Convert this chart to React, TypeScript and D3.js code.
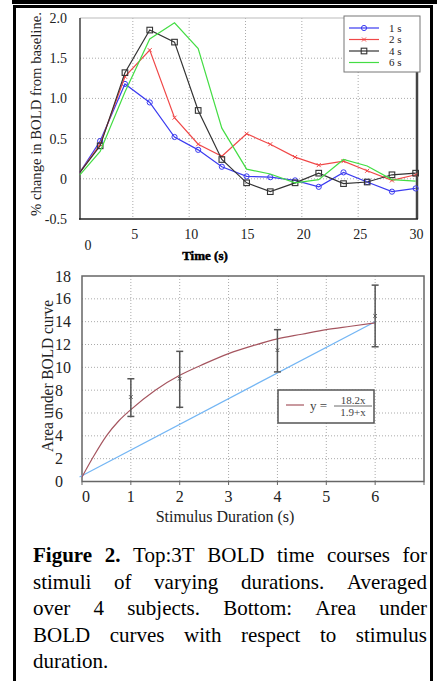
import * as d3 from "d3";
import React, { useMemo } from "react";

// top panel: BOLD time courses (% change), sampled every ~2.15 s
const times = [0.3, 2.1, 4.3, 6.5, 8.7, 10.8, 12.9, 15.1, 17.2, 19.4, 21.5, 23.7, 25.8, 28.0, 30.1];
const bold1s = [0.08, 0.47, 1.18, 0.95, 0.52, 0.36, 0.15, 0.03, 0.02, -0.02, -0.1, 0.08, -0.04, -0.16, -0.12];
const bold2s = [0.08, 0.43, 1.27, 1.6, 0.76, 0.43, 0.28, 0.56, 0.43, 0.27, 0.17, 0.22, 0.1, -0.02, 0.05];
const bold4s = [0.08, 0.41, 1.32, 1.85, 1.7, 0.85, 0.24, -0.05, -0.16, -0.05, 0.07, -0.06, -0.04, 0.05, 0.07];
const bold6s = [0.05, 0.34, 1.08, 1.74, 1.94, 1.62, 0.63, 0.12, 0.06, -0.05, -0.01, 0.24, 0.16, -0.01, -0.03];
const seriesNames = ["1 s", "2 s", "4 s", "6 s"];
const topYTicks = [-0.5, 0, 0.5, 1.0, 1.5, 2.0];
const topYLabels = ["-0.5", "0", "0.5", "1.0", "1.5", "2.0"];
const topXTicks = [0, 5, 10, 15, 20, 25, 30];

// bottom panel: area under curve vs stimulus duration
const durations = [1, 2, 4, 6];
const areaMean = [7.4, 9.0, 11.5, 14.5];
const areaLow = [5.7, 6.5, 9.6, 11.8];
const areaHigh = [9.0, 11.4, 13.3, 17.2];
const fitX = [0, 0.25, 0.5, 0.75, 1, 1.5, 2, 2.5, 3, 3.5, 4, 4.5, 5, 5.5, 6];
const fitY = [0.4, 2.3, 4.0, 5.3, 6.3, 8.0, 9.3, 10.3, 11.2, 11.9, 12.5, 12.9, 13.3, 13.6, 13.9];
const linX = [-0.05, 6];
const linY = [0.4, 14.0];
const botYTicks = [0, 2, 4, 6, 8, 10, 12, 14, 16, 18];
const botXTicks = [0, 1, 2, 3, 4, 5, 6, 7];

const captionLines = [
  "Figure 2. Top:3T BOLD time courses for",
  "stimuli of varying durations. Averaged",
  "over 4 subjects. Bottom: Area under",
  "BOLD curves with respect to stimulus",
  "duration.",
];

const SERIF = "'Liberation Serif', 'Times New Roman', serif";

const App = () => {
  const xT = d3.scaleLinear().domain([0, 30]).range([76.5, 414.5]);
  const yT = d3.scaleLinear().domain([-0.5, 2]).range([219, 18]);
  const xB = d3.scaleLinear().domain([0, 7]).range([82, 424]);
  const yB = d3.scaleLinear().domain([0, 18]).range([481.5, 276]);

  const topLine = d3
    .line<[number, number]>()
    .x((d) => xT(d[0]))
    .y((d) => yT(d[1]));
  const pts = (vals: number[]) => times.map((t, i) => [t, vals[i]] as [number, number]);

  const series = [
    { name: seriesNames[0], vals: bold1s, color: "#3b3bf0", marker: "circle" },
    { name: seriesNames[1], vals: bold2s, color: "#f04848", marker: "x" },
    { name: seriesNames[2], vals: bold4s, color: "#333333", marker: "square" },
    { name: seriesNames[3], vals: bold6s, color: "#44dd44", marker: "none" },
  ];

  const marker = (kind: string, cx: number, cy: number, color: string, key: any) => {
    if (kind === "circle")
      return <circle key={key} cx={cx} cy={cy} r={2.6} fill="none" stroke={color} strokeWidth={1} />;
    if (kind === "square")
      return <rect key={key} x={cx - 2.8} y={cy - 2.8} width={5.6} height={5.6} fill="none" stroke={color} strokeWidth={1.1} />;
    if (kind === "x")
      return (
        <path key={key} d={`M${cx - 2},${cy - 2}L${cx + 2},${cy + 2}M${cx - 2},${cy + 2}L${cx + 2},${cy - 2}`} stroke={color} strokeWidth={1} />
      );
    return null;
  };

  const fitLine = d3
    .line<number>()
    .x((d) => xB(d))
    .y((_, i) => yB(fitY[i]))
    .curve(d3.curveMonotoneX);
  const linLine = d3
    .line<number>()
    .x((d) => xB(d))
    .y((_, i) => yB(linY[i]));

  // justified caption, measured with a canvas
  const caption = useMemo(() => {
    const ctx = document.createElement("canvas").getContext("2d")!;
    const size = 21;
    const left = 33;
    const right = 427;
    return captionLines.map((line, li) => {
      const words = line.split(" ").map((w, wi) => {
        const bold = li === 0 && wi < 2;
        ctx.font = `${bold ? "bold " : ""}${size}px 'Liberation Serif'`;
        return { w, bold, width: ctx.measureText(w).width };
      });
      const total = d3.sum(words, (d) => d.width);
      const last = li === captionLines.length - 1;
      const gap = last || words.length < 2 ? size * 0.25 : (right - left - total) / (words.length - 1);
      let x = left;
      return words.map((d) => {
        const out = { ...d, x };
        x += d.width + gap;
        return out;
      });
    });
  }, []);

  return (
    <div style={{ position: "absolute", left: 0, top: 0 }}>
      <svg width={438} height={681} style={{ display: "block", background: "#fff" }} fontFamily={SERIF}>
        {/* frames */}
        <rect x={12} y={0} width={425} height={4} fill="#000" />
        <rect x={14.5} y={6.5} width={417} height={690} fill="none" stroke="#000" strokeWidth={3} />

        {/* ===== top chart ===== */}
        <g>
          {topYTicks.slice(1, 5).map((v) => (
            <line key={"gy" + v} x1={80} x2={417} y1={yT(v)} y2={yT(v)} stroke="#aaa" strokeDasharray="1,2" />
          ))}
          {topXTicks.slice(1, 6).map((v) => (
            <line key={"gx" + v} x1={xT(v)} x2={xT(v)} y1={18} y2={219} stroke="#aaa" strokeDasharray="1,2" />
          ))}
          <line x1={80} x2={417} y1={18} y2={18} stroke="#bbb" />
          <line x1={417} x2={417} y1={72} y2={219} stroke="#444" strokeWidth={2.5} />
          <line x1={80} x2={80} y1={18} y2={219.5} stroke="#222" strokeWidth={1.3} />
          <line x1={79} x2={418} y1={219} y2={219} stroke="#222" strokeWidth={1.5} />

          {series.map((s) => (
            <g key={s.name}>
              <path d={topLine(pts(s.vals)) || ""} fill="none" stroke={s.color} strokeWidth={1.2} />
              {pts(s.vals).slice(1).map((p, i) => marker(s.marker, xT(p[0]), yT(p[1]), s.color, i))}
            </g>
          ))}

          {topYTicks.map((v, i) => (
            <text key={"ty" + v} x={67} y={yT(v) + 5} textAnchor="end" fontSize={14} fill="#222">
              {topYLabels[i]}
            </text>
          ))}
          {topXTicks.map((v) =>
            v === 0 ? (
              <text key="tx0" x={88} y={250} textAnchor="middle" fontSize={14} fill="#222">0</text>
            ) : (
              <text key={"tx" + v} x={xT(v) + 2} y={239} textAnchor="middle" fontSize={14} fill="#222">
                {v}
              </text>
            )
          )}
          <text x={205} y={260} textAnchor="middle" fontSize={13} fontWeight="bold" stroke="#000" strokeWidth={0.5}>
            Time (s)
          </text>
          <text
            transform="translate(41,114) rotate(-90)"
            textAnchor="middle"
            fontSize={14.5}
            textLength={204}
            lengthAdjust="spacingAndGlyphs"
            fill="#222"
          >
            % change in BOLD from baseline.
          </text>

          {/* legend */}
          <rect x={344} y={16} width={76} height={56} fill="#fff" stroke="#777" strokeWidth={1} />
          {series.map((s, i) => {
            const ly = 28 + i * 11.5;
            return (
              <g key={"lg" + s.name}>
                <line x1={349} x2={379} y1={ly} y2={ly} stroke={s.color} strokeWidth={1.2} />
                {marker(s.marker, 364, ly, s.color, "m")}
                <text x={389} y={ly + 3.5} fontSize={11} fill="#222">{s.name}</text>
              </g>
            );
          })}
        </g>

        {/* ===== bottom chart ===== */}
        <g>
          {botYTicks.slice(1, 9).map((v) => (
            <line key={"by" + v} x1={82} x2={424} y1={yB(v)} y2={yB(v)} stroke="#aaa" strokeDasharray="1,2" />
          ))}
          {botXTicks.slice(1, 7).map((v) => (
            <line key={"bx" + v} x1={xB(v)} x2={xB(v)} y1={276} y2={481.5} stroke="#aaa" strokeDasharray="1,2" />
          ))}
          <rect x={82} y={276} width={342} height={205.5} fill="none" stroke="#666" strokeWidth={1.5} />
          {botXTicks.map((v) => (
            <line key={"bt" + v} x1={xB(v)} x2={xB(v)} y1={482} y2={485} stroke="#666" />
          ))}

          <path d={linLine(linX) || ""} fill="none" stroke="#74b6f4" strokeWidth={1.2} />
          <path d={fitLine(fitX) || ""} fill="none" stroke="#a5555f" strokeWidth={1.2} />

          {durations.map((d, i) => (
            <g key={"eb" + d} stroke="#555" strokeWidth={1.5}>
              <line x1={xB(d)} x2={xB(d)} y1={yB(areaLow[i])} y2={yB(areaHigh[i])} />
              <line x1={xB(d) - 3.5} x2={xB(d) + 3.5} y1={yB(areaLow[i])} y2={yB(areaLow[i])} />
              <line x1={xB(d) - 3.5} x2={xB(d) + 3.5} y1={yB(areaHigh[i])} y2={yB(areaHigh[i])} />
              <path
                d={`M${xB(d) - 1.8},${yB(areaMean[i]) - 1.8}L${xB(d) + 1.8},${yB(areaMean[i]) + 1.8}M${xB(d) - 1.8},${yB(areaMean[i]) + 1.8}L${xB(d) + 1.8},${yB(areaMean[i]) - 1.8}`}
                strokeWidth={1}
              />
            </g>
          ))}

          {botYTicks.map((v) => (
            <text key={"byl" + v} x={55} y={yB(v) + 5.5} fontSize={16} fill="#222">
              {v}
            </text>
          ))}
          {botXTicks.slice(0, 7).map((v) => (
            <text key={"bxl" + v} x={xB(v) + (v === 0 ? 4 : 0)} y={502} textAnchor="middle" fontSize={16} fill="#222">
              {v}
            </text>
          ))}
          <text x={225} y={522} textAnchor="middle" fontSize={16} fill="#222">
            Stimulus Duration (s)
          </text>
          <text
            transform="translate(53,376) rotate(-90)"
            textAnchor="middle"
            fontSize={16}
            textLength={152}
            lengthAdjust="spacingAndGlyphs"
            fill="#222"
          >
            Area under BOLD curve
          </text>

          {/* fit legend */}
          <rect x={278} y={390} width={96} height={33} fill="#fff" stroke="#555" strokeWidth={1.5} />
          <line x1={286} x2={304} y1={405} y2={405} stroke="#a5555f" strokeWidth={1.2} />
          <text x={310} y={410} fontSize={13} fill="#444">y =</text>
          <text x={353} y={404} textAnchor="middle" fontSize={11} fill="#444">18.2x</text>
          <line x1={334} x2={372} y1={406} y2={406} stroke="#444" strokeWidth={0.8} />
          <text x={353} y={416} textAnchor="middle" fontSize={11} fill="#444">1.9+x</text>
        </g>

        {/* caption */}
        {caption.map((words, li) => (
          <text key={"cap" + li} y={562 + li * 26.5} fontSize={21} fill="#000">
            {words.map((d, wi) => (
              <tspan key={wi} x={d.x} fontWeight={d.bold ? "bold" : "normal"}>
                {d.w}
              </tspan>
            ))}
          </text>
        ))}
      </svg>
    </div>
  );
};

export default App;
